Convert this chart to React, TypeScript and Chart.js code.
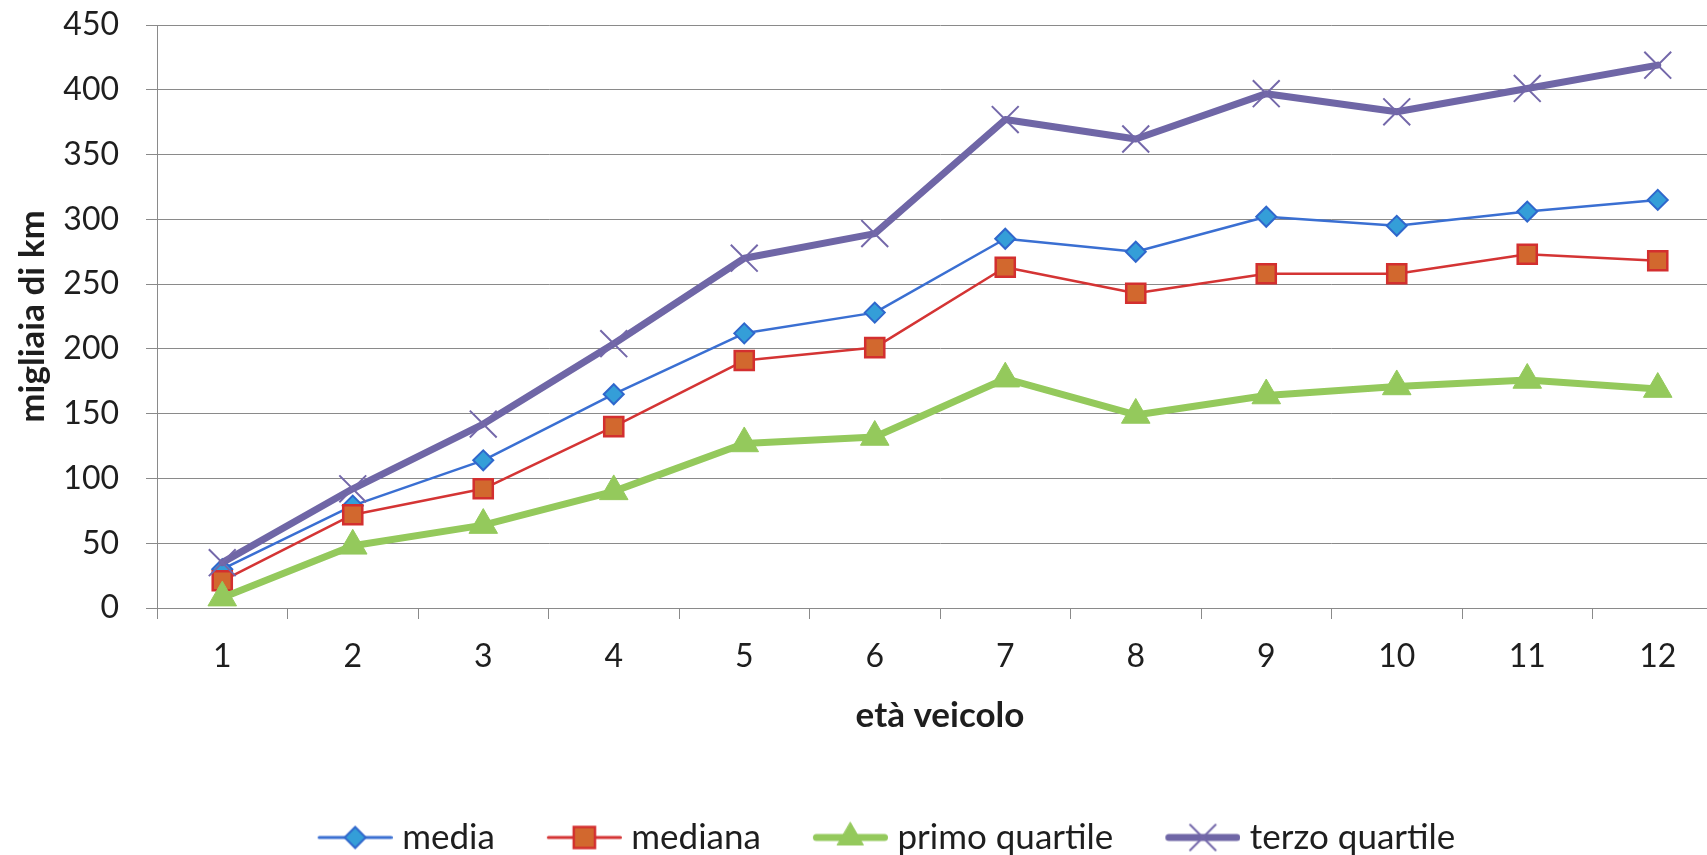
import React, { useEffect, useRef } from "react";
import { Chart, registerables } from "chart.js";
import { drawPoint } from "chart.js/helpers";

Chart.register(...registerables);

// Vehicle age (years) on the x axis
const categories = ["1", "2", "3", "4", "5", "6", "7", "8", "9", "10", "11", "12"];

// Thousands of km driven
const mediaValues = [30, 79, 114, 165, 212, 228, 285, 275, 302, 295, 306, 315];
const medianaValues = [21, 72, 92, 140, 191, 201, 263, 243, 258, 258, 273, 268];
const primoQuartileValues = [8, 48, 64, 90, 127, 132, 177, 149, 164, 171, 176, 169];
const terzoQuartileValues = [35, 92, 142, 204, 270, 289, 377, 362, 397, 383, 401, 419];

const seriesNames = ["media", "mediana", "primo quartile", "terzo quartile"];

const yTitle = "migliaia di km";
const xTitle = "età veicolo";

const FONT = "Lato";
const TICK_FS = 32;
const LABEL_FS = 35;
const TEXT = "#1e1e1e";
const GRID = "#8a8a8a";

const CANVAS_W = 1744;
const CANVAS_H = 865;

type SeriesStyle = {
  line: string;
  lineWidth: number;
  legendLineWidth: number;
  fill: string;
  border: string;
  borderWidth: number;
  pointStyle: string;
  radius: number;
  legendRadius: number;
};

const styles: SeriesStyle[] = [
  { line: "#3a6fd2", lineWidth: 2.5, legendLineWidth: 3, fill: "#349ed8", border: "#2f67cc", borderWidth: 2, pointStyle: "rectRot", radius: 10, legendRadius: 10.5 },
  { line: "#d43434", lineWidth: 2.5, legendLineWidth: 3, fill: "#d2682e", border: "#d32f2f", borderWidth: 2.5, pointStyle: "rect", radius: 13.5, legendRadius: 15 },
  { line: "#94c95c", lineWidth: 7, legendLineWidth: 7, fill: "#94c95c", border: "#94c95c", borderWidth: 1, pointStyle: "triangle", radius: 16.5, legendRadius: 15 },
  { line: "#6f66a6", lineWidth: 7, legendLineWidth: 7, fill: "#6f66a6", border: "#7468aa", borderWidth: 2, pointStyle: "crossRot", radius: 19, legendRadius: 18 },
];

// Legend sample: line segment with the series marker in the middle
const SAMPLE_IMG_W = 112;
const SAMPLE_LEN = 75;
const SAMPLE_BOX_W = 96;

function makeLegendSample(s: SeriesStyle): HTMLCanvasElement {
  const c = document.createElement("canvas");
  c.width = SAMPLE_IMG_W;
  c.height = 44;
  const ctx = c.getContext("2d")!;
  const cy = 22;
  const x0 = SAMPLE_IMG_W - SAMPLE_LEN;
  ctx.strokeStyle = s.line;
  ctx.lineWidth = s.legendLineWidth;
  ctx.lineCap = "round";
  ctx.beginPath();
  ctx.moveTo(x0 + s.legendLineWidth / 2, cy);
  ctx.lineTo(SAMPLE_IMG_W - s.legendLineWidth / 2, cy);
  ctx.stroke();
  ctx.fillStyle = s.fill;
  ctx.strokeStyle = s.border;
  ctx.lineWidth = s.borderWidth;
  drawPoint(
    ctx,
    { pointStyle: s.pointStyle as any, rotation: 0, radius: s.legendRadius, borderWidth: s.borderWidth },
    x0 + SAMPLE_LEN / 2,
    cy
  );
  return c;
}

export default function App() {
  const canvasRef = useRef<HTMLCanvasElement | null>(null);

  useEffect(() => {
    const canvas = canvasRef.current;
    if (!canvas) return;

    const values = [mediaValues, medianaValues, primoQuartileValues, terzoQuartileValues];
    const samples = styles.map(makeLegendSample);

    const datasets = values.map((data, i) => {
      const s = styles[i];
      return {
        label: seriesNames[i],
        data,
        order: 4 - i,
        borderColor: s.line,
        borderWidth: s.lineWidth,
        borderJoinStyle: "round" as const,
        borderCapStyle: "round" as const,
        backgroundColor: s.fill,
        pointStyle: s.pointStyle as any,
        pointRadius: s.radius,
        pointHoverRadius: s.radius,
        pointBackgroundColor: s.fill,
        pointBorderColor: s.border,
        pointBorderWidth: s.borderWidth,
        tension: 0,
        fill: false,
      };
    });

    const chart = new Chart(canvas, {
      type: "line",
      data: { labels: categories, datasets },
      options: {
        animation: false,
        responsive: false,
        devicePixelRatio: 1,
        layout: { padding: { left: 0, right: 0, top: 25, bottom: 0 } },
        plugins: {
          tooltip: { enabled: false },
          legend: {
            position: "bottom",
            labels: {
              usePointStyle: true,
              pointStyleWidth: SAMPLE_BOX_W,
              padding: 23,
              color: TEXT,
              font: { family: FONT, size: LABEL_FS },
              sort: (a: any, b: any) => a.datasetIndex - b.datasetIndex,
              generateLabels: (ch: any) => {
                const base = Chart.defaults.plugins.legend.labels.generateLabels(ch);
                return base.map((item: any) => ({
                  ...item,
                  pointStyle: samples[item.datasetIndex],
                  lineWidth: 0,
                }));
              },
            },
          },
        },
        scales: {
          x: {
            type: "category",
            offset: true,
            afterFit: (scale: any) => {
              scale.height = 189;
            },
            grid: {
              offset: true,
              drawOnChartArea: false,
              drawTicks: true,
              tickLength: 11,
              color: GRID,
              lineWidth: 1,
            },
            border: { color: GRID, width: 1 },
            ticks: {
              color: TEXT,
              padding: 18,
              font: { family: FONT, size: TICK_FS },
              maxRotation: 0,
              autoSkip: false,
            },
            title: {
              display: true,
              text: xTitle,
              color: TEXT,
              font: { family: FONT, size: LABEL_FS, weight: "bold" },
              padding: { top: 0, bottom: 60 },
            },
          },
          y: {
            min: 0,
            max: 450,
            afterFit: (scale: any) => {
              scale.width = 157;
              scale.paddingTop = 0;
              scale.paddingBottom = 0;
            },
            grid: {
              color: GRID,
              lineWidth: 1,
              tickLength: 11,
            },
            border: { color: GRID, width: 1 },
            ticks: {
              stepSize: 50,
              color: TEXT,
              padding: 27,
              font: { family: FONT, size: TICK_FS },
            },
            title: {
              display: true,
              text: yTitle,
              color: TEXT,
              font: { family: FONT, size: LABEL_FS, weight: "bold" },
              padding: { top: 12, bottom: 0 },
            },
          },
        },
      },
    });

    return () => chart.destroy();
  }, []);

  return (
    <div
      style={{
        position: "fixed",
        left: 0,
        top: 0,
        width: 1707,
        height: 855,
        overflow: "hidden",
        background: "#ffffff",
      }}
    >
      <canvas
        ref={canvasRef}
        width={CANVAS_W}
        height={CANVAS_H}
        style={{ display: "block", width: CANVAS_W, height: CANVAS_H }}
      />
    </div>
  );
}
